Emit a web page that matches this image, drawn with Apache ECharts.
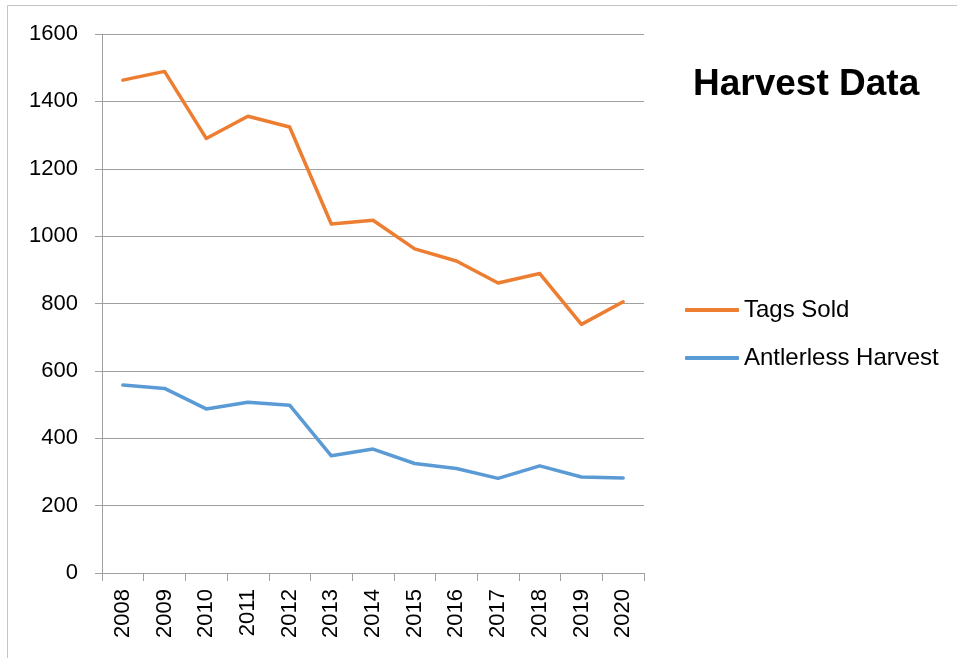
<!DOCTYPE html>
<html>
<head>
<meta charset="utf-8">
<script src="https://cdn.jsdelivr.net/npm/echarts@6/dist/echarts.min.js"></script>
<style>html,body{margin:0;padding:0;background:#fff}#c{width:957px;height:658px}</style>
</head>
<body>
<div id="c"></div>
<script>
var years = ['2008','2009','2010','2011','2012','2013','2014','2015','2016','2017','2018','2019','2020'];
var tagsSold = [1463, 1489, 1290, 1356, 1324, 1036, 1047, 962, 926, 861, 889, 738, 805];
var antlerlessHarvest = [558, 548, 487, 507, 498, 348, 368, 325, 310, 281, 318, 285, 282];
var yTicks = [0, 200, 400, 600, 800, 1000, 1200, 1400, 1600];

var FONT = 'Liberation Sans';
var chart = echarts.init(document.getElementById('c'), null, {renderer: 'canvas'});
chart.setOption({
  animation: false,
  backgroundColor: '#fff',
  graphic: [{
    type: 'rect', silent: true,
    shape: {x: 7.5, y: 5.5, width: 1200, height: 1200},
    style: {fill: 'none', stroke: '#c4c4c4', lineWidth: 1}
  }],
  title: {
    text: 'Harvest Data',
    left: 693, top: 66, padding: 0,
    textStyle: {fontFamily: FONT, fontSize: 37, fontWeight: 'bold', color: '#000'}
  },
  legend: {
    orient: 'vertical',
    left: 685, top: 298, padding: 0,
    icon: 'roundRect',
    itemWidth: 54, itemHeight: 4, itemGap: 24,
    textStyle: {fontFamily: FONT, fontSize: 24, color: '#000'},
    data: ['Tags Sold', 'Antlerless Harvest']
  },
  grid: {left: 102, right: 313, top: 34, bottom: 85, containLabel: false},
  xAxis: {
    type: 'category',
    data: years,
    boundaryGap: true,
    axisLine: {lineStyle: {color: '#a0a0a0', width: 1}},
    axisTick: {show: true, length: 8, lineStyle: {color: '#a0a0a0'}},
    axisLabel: {rotate: 90, margin: 16, fontFamily: FONT, fontSize: 22, color: '#000', interval: 0}
  },
  yAxis: {
    type: 'value',
    min: yTicks[0], max: yTicks[yTicks.length - 1], interval: 200,
    axisLine: {show: true, lineStyle: {color: '#a0a0a0', width: 1}},
    axisTick: {show: true, length: 7, lineStyle: {color: '#a0a0a0'}},
    splitLine: {lineStyle: {color: '#a0a0a0', width: 1}},
    axisLabel: {margin: 24, fontFamily: FONT, fontSize: 22, color: '#000',
      formatter: function (v) { return String(v); }}
  },
  series: [
    {name: 'Tags Sold', type: 'line', data: tagsSold, symbol: 'none', showSymbol: false,
     itemStyle: {color: '#ED7D31'}, lineStyle: {color: '#ED7D31', width: 3.5, join: 'round', cap: 'round'}},
    {name: 'Antlerless Harvest', type: 'line', data: antlerlessHarvest, symbol: 'none', showSymbol: false,
     itemStyle: {color: '#5B9BD5'}, lineStyle: {color: '#5B9BD5', width: 3.5, join: 'round', cap: 'round'}}
  ]
});
</script>
</body>
</html>
